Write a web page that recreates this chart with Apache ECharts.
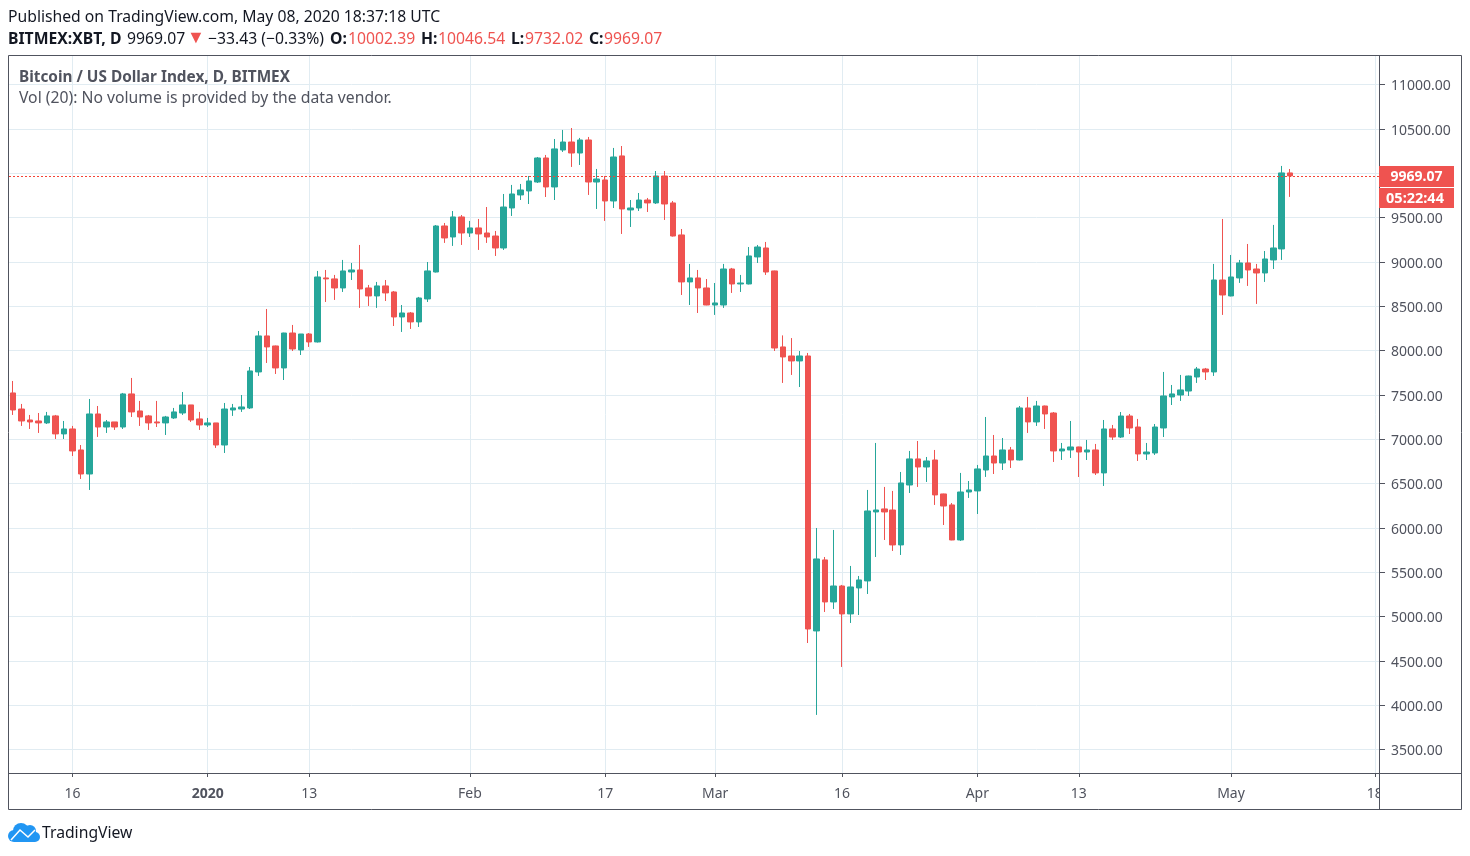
<!DOCTYPE html>
<html lang="en">
<head>
<meta charset="UTF-8">
<title>BITMEX:XBT, D</title>
<script src="https://cdn.jsdelivr.net/npm/echarts@6/dist/echarts.min.js"></script>
<style>
	html, body { margin: 0; padding: 0; background: #fff; }
	#main { position: absolute; left: 0; top: 0; width: 1470px; height: 856px; }
	.txt { position: absolute; white-space: nowrap; font-family: "Noto Sans", sans-serif; pointer-events: none; color: #131722; font-size: 15.72px; }
	.l2 { top: 27px; }
	.red { color: #ef5350; }
	.bd { font-weight: 700; }
</style>
</head>
<body>
	<div id="main"></div>
	<div class="txt" style="left:8px;top:5px;">Published on TradingView.com, May 08, 2020 18:37:18 UTC</div>
	<div class="txt l2 bd" style="left:8px;">BITMEX:XBT, D</div>
	<div class="txt l2" style="left:127px;">9969.07</div>
	<div class="txt l2 red" style="left:187px;top:24px;font-size:18px;">▼</div>
	<div class="txt l2" style="left:208px;">−33.43 (−0.33%)</div>
	<div class="txt l2 bd" style="left:330px;">O:</div>
	<div class="txt l2 red" style="left:348px;">10002.39</div>
	<div class="txt l2 bd" style="left:421px;">H:</div>
	<div class="txt l2 red" style="left:438px;">10046.54</div>
	<div class="txt l2 bd" style="left:511px;">L:</div>
	<div class="txt l2 red" style="left:525px;">9732.02</div>
	<div class="txt l2 bd" style="left:589px;">C:</div>
	<div class="txt l2 red" style="left:604px;">9969.07</div>
	<div class="txt bd" style="left:19px;top:66px;font-size:15.35px;color:#50535e;">Bitcoin / US Dollar Index, D, BITMEX</div>
	<div class="txt" style="left:19px;top:86px;color:#50535e;">Vol (20): No volume is provided by the data vendor.</div>
	<div class="txt" style="left:42px;top:821px;">TradingView</div>
	<script type="text/javascript">
		// days on the x axis, Dec 9 2019 to May 18 2020 (last ten have no candle yet)
		var categories = [
			'12-09','12-10','12-11','12-12','12-13','12-14','12-15','12-16','12-17','12-18','12-19','12-20','12-21','12-22','12-23','12-24','12-25','12-26','12-27','12-28','12-29','12-30','12-31',
			'01-01','01-02','01-03','01-04','01-05','01-06','01-07','01-08','01-09','01-10','01-11','01-12','01-13','01-14','01-15','01-16','01-17','01-18','01-19','01-20','01-21','01-22','01-23','01-24','01-25','01-26','01-27','01-28','01-29','01-30','01-31',
			'02-01','02-02','02-03','02-04','02-05','02-06','02-07','02-08','02-09','02-10','02-11','02-12','02-13','02-14','02-15','02-16','02-17','02-18','02-19','02-20','02-21','02-22','02-23','02-24','02-25','02-26','02-27','02-28','02-29',
			'03-01','03-02','03-03','03-04','03-05','03-06','03-07','03-08','03-09','03-10','03-11','03-12','03-13','03-14','03-15','03-16','03-17','03-18','03-19','03-20','03-21','03-22','03-23','03-24','03-25','03-26','03-27','03-28','03-29','03-30','03-31',
			'04-01','04-02','04-03','04-04','04-05','04-06','04-07','04-08','04-09','04-10','04-11','04-12','04-13','04-14','04-15','04-16','04-17','04-18','04-19','04-20','04-21','04-22','04-23','04-24','04-25','04-26','04-27','04-28','04-29','04-30',
			'05-01','05-02','05-03','05-04','05-05','05-06','05-07','05-08','05-09','05-10','05-11','05-12','05-13','05-14','05-15','05-16','05-17','05-18'
		];
		var opens = [
			7521,7340,7216,7205,7183,7262,7059,7115,6878,6607,
			7284,7137,7194,7137,7510,7318,7262,7194,7183,7239,
			7295,7386,7228,7160,7183,6934,7329,7340,7352,7758,
			8164,8051,7803,8197,8006,8186,8096,8818,8807,8705,
			8885,8908,8705,8615,8728,8660,8378,8423,8322,8581,
			8885,9404,9280,9506,9325,9382,9325,9291,9156,9607,
			9754,9799,9900,10171,9844,10261,10351,10227,10374,9900,
			9923,9686,10194,9585,9607,9697,9664,9968,9664,9303,
			8773,8818,8705,8513,8513,8919,8750,8750,9055,9156,
			8897,8040,7938,7882,7938,4837,5638,5164,5344,5029,
			5322,5401,6179,6213,6201,5807,6483,6777,6686,6765,
			6382,6258,5863,6404,6416,6652,6810,6731,6878,6765,
			7352,7194,7374,7295,6867,6878,6912,6855,6878,6619,
			7115,7024,7261,7137,6833,6844,7126,7476,7498,7543,
			7701,7791,7758,8795,8615,8818,8987,8919,8874,9021,
			9145,10002.39
		];
		var closes = [
			7329,7205,7194,7183,7262,7059,7115,6867,6607,7284,
			7137,7194,7137,7510,7307,7250,7183,7183,7250,7307,
			7386,7216,7160,7183,6934,7340,7352,7363,7769,8164,
			8040,7803,8197,8017,8186,8096,8829,8807,8705,8897,
			8908,8694,8615,8728,8649,8378,8423,8322,8592,8897,
			9404,9269,9506,9325,9382,9314,9280,9156,9618,9765,
			9810,9912,10171,9844,10273,10351,10227,10374,9900,9934,
			9686,10182,9596,9607,9697,9664,9968,9652,9291,8773,
			8818,8705,8513,8536,8919,8750,8761,9066,9167,8885,
			8028,7927,7882,7938,4859,5649,5164,5344,5029,5333,
			5412,6190,6201,6179,5807,6506,6777,6686,6754,6371,
			6246,5863,6404,6427,6664,6810,6731,6878,6765,7352,
			7194,7374,7284,6867,6889,6912,6855,6878,6619,7115,
			7024,7261,7126,6833,6855,7137,7487,7510,7555,7712,
			7791,7758,8795,8626,8829,8987,8908,8874,9032,9156,
			10002.39,9969.07
		];
		var lows = [
			7273,7149,7115,7070,7171,7002,7002,6810,6551,6427,
			7025,7070,7104,7115,7250,7149,7104,7137,7047,7228,
			7273,7194,7104,7137,6901,6844,7262,7307,7340,7713,
			7859,7735,7667,7994,7949,8040,8090,8547,8570,8660,
			8795,8480,8502,8480,8558,8276,8209,8243,8265,8547,
			8880,9213,9179,9190,9280,9134,9213,9066,9134,9517,
			9697,9652,9889,9731,9697,10239,10070,10092,9754,9596,
			9461,9607,9314,9393,9573,9562,9652,9472,9285,8626,
			8513,8423,8510,8401,8480,8649,8660,8745,8987,8852,
			7994,7634,7724,7588,4701,3890,5051,5085,4431,4927,
			5017,5254,5671,5863,5739,5694,6393,6461,6517,6258,
			6032,5860,5852,6337,6156,6574,6607,6652,6675,6760,
			7070,7149,7115,6743,6765,6788,6573,6765,6596,6472,
			6991,7013,7058,6754,6765,6822,7024,7385,7431,7487,
			7634,7667,7713,8401,8610,8762,8728,8525,8773,8919,
			9021,9732.02
		];
		var highs = [
			7656,7397,7273,7295,7307,7273,7205,7149,6934,7453,
			7374,7216,7194,7521,7690,7431,7273,7431,7262,7352,
			7532,7386,7307,7239,7183,7408,7397,7498,7814,8220,
			8468,8055,8200,8288,8186,8197,8897,8908,8852,9021,
			8987,9190,8739,8773,8795,8671,8513,8434,8604,8998,
			9415,9438,9573,9528,9461,9483,9618,9348,9765,9867,
			9878,9968,10182,10205,10385,10487,10509,10397,10408,10047,
			9968,10284,10306,9697,9776,9720,10024,10024,9686,9370,
			8976,8908,8806,8761,8976,8931,8852,9167,9190,9224,
			8900,8170,8140,7994,7972,5998,5671,5976,5356,5570,
			5457,6427,6957,6461,6416,6630,6867,6979,6799,6878,
			6385,6280,6619,6528,6709,7250,7047,7013,6912,7374,
			7476,7431,7378,7306,6957,7205,6915,6991,6946,7216,
			7160,7306,7284,7228,6957,7171,7758,7611,7724,7716,
			7814,7803,8976,9483,9077,9021,9201,8976,9122,9416,
			10081,10046.54
		];
		var yTicks = [3500,4000,4500,5000,5500,6000,6500,7000,7500,8000,8500,9000,9500,10000,10500,11000];
		var yLabels = [3500,4000,4500,5000,5500,6000,6500,7000,7500,8000,8500,9000,9500,10500,11000]; // 10000 sits under the last price tag
		var xTickDates = ['12-16','01-01','01-13','02-01','02-17','03-01','03-16','04-01','04-13','05-01','05-18'];
		var xTickLabels = ['16','2020','13','Feb','17','Mar','16','Apr','13','May','18'];
		var lastPrice = 9969.07;
		var countdown = '05:22:44';

		var UP = '#26a69a', DOWN = '#ef5350', GRID = '#e1ecf2', TEXT = '#50535e';
		var FONT = '"Noto Sans", sans-serif';
		var LOGO = '#2196f3';

		var candles = opens.map(function (o, i) {
			return [o, closes[i], lows[i], highs[i]]; // echarts order
		});
		function isXTick(idx, val) {
			return xTickDates.indexOf(val) >= 0;
		}

		var myChart = echarts.init(document.getElementById('main'));
		var option = {
			animation: false,
			backgroundColor: '#fff',
			grid: { left: 9, top: 56, width: 1370, height: 717 },
			xAxis: {
				type: 'category',
				data: categories,
				boundaryGap: true,
				axisLine: { show: false },
				axisTick: { show: true, length: 4, interval: isXTick, alignWithLabel: true, lineStyle: { color: TEXT } },
				axisLabel: {
					show: true,
					interval: isXTick,
					margin: 14,
					fontFamily: FONT,
					fontSize: 14,
					color: TEXT,
					formatter: function (val) {
						var lb = xTickLabels[xTickDates.indexOf(val)];
						return lb === '2020' ? '{y|' + lb + '}' : lb;
					},
					rich: { y: { fontFamily: FONT, fontSize: 14, fontWeight: 'bold', color: TEXT } }
				},
				splitLine: { show: true, interval: isXTick, alignWithLabel: true, lineStyle: { color: GRID, width: 1 } }
			},
			yAxis: {
				type: 'value',
				position: 'right',
				min: 3235,
				max: 11321,
				axisLine: { show: false },
				axisTick: { show: true, length: 6, customValues: yTicks, lineStyle: { color: TEXT } },
				axisLabel: {
					show: true,
					margin: 12,
					customValues: yLabels,
					fontFamily: FONT,
					fontSize: 14,
					color: TEXT,
					formatter: function (val) { return '{p|' + val.toFixed(2) + '}'; },
					rich: { p: { fontFamily: FONT, fontSize: 14, color: TEXT, padding: [4, 0, 0, 0] } }
				},
				splitLine: { show: true, lineStyle: { color: GRID, width: 1 } }
			},
			series: [{
				type: 'candlestick',
				data: candles,
				barWidth: 6,
				itemStyle: { color: UP, color0: DOWN, borderColor: UP, borderColor0: DOWN, borderWidth: 1 },
				markLine: {
					silent: true,
					symbol: 'none',
					label: { show: false },
					lineStyle: { color: '#f44336', type: [2, 2], width: 1 },
					data: [{ yAxis: lastPrice }]
				}
			}],
			graphic: [
				// cuts the "18" at the price scale, like the original
				{ type: 'rect', z: 10, shape: { x: 1380, y: 774, width: 81, height: 35 }, style: { fill: '#fff' } },
				{ type: 'rect', z: 11, shape: { x: 8.5, y: 55.5, width: 1453, height: 754 }, style: { fill: 'none', stroke: TEXT, lineWidth: 1 } },
				{ type: 'line', z: 11, shape: { x1: 1379.5, y1: 56, x2: 1379.5, y2: 809 }, style: { stroke: TEXT, lineWidth: 1 } },
				{ type: 'line', z: 11, shape: { x1: 9, y1: 773.5, x2: 1461, y2: 773.5 }, style: { stroke: TEXT, lineWidth: 1 } },
				// last price + countdown tags
				{ type: 'rect', z: 12, shape: { x: 1379, y: 166, width: 75, height: 21 }, style: { fill: DOWN } },
				{ type: 'rect', z: 12, shape: { x: 1379, y: 188, width: 75, height: 20 }, style: { fill: DOWN } },
				{ type: 'text', z: 13, style: { x: 1416.5, y: 177.5, text: lastPrice.toFixed(2), fill: '#fff', fontFamily: FONT, fontSize: 14, fontWeight: 'bold', align: 'center', verticalAlign: 'middle' } },
				{ type: 'text', z: 13, style: { x: 1415, y: 199, text: countdown, fill: '#fff', fontFamily: FONT, fontSize: 14.5, fontWeight: 'bold', align: 'center', verticalAlign: 'middle' } },
				// logo, a cloud made of a few lobes with the white line on top
				{ type: 'circle', z: 12, shape: { cx: 14, cy: 836, r: 6 }, style: { fill: LOGO } },
				{ type: 'circle', z: 12, shape: { cx: 21, cy: 831, r: 8 }, style: { fill: LOGO } },
				{ type: 'circle', z: 12, shape: { cx: 30, cy: 831, r: 6 }, style: { fill: LOGO } },
				{ type: 'circle', z: 12, shape: { cx: 35, cy: 837, r: 5 }, style: { fill: LOGO } },
				{ type: 'rect', z: 12, shape: { x: 14, y: 834, width: 21, height: 8 }, style: { fill: LOGO } },
				{ type: 'polyline', z: 13, shape: { points: [[11, 840], [20, 830], [28, 837], [35, 830]] }, style: { stroke: '#fff', fill: 'none', lineWidth: 1.5 } }
			]
		};
		myChart.setOption(option);
	</script>
</body>
</html>
